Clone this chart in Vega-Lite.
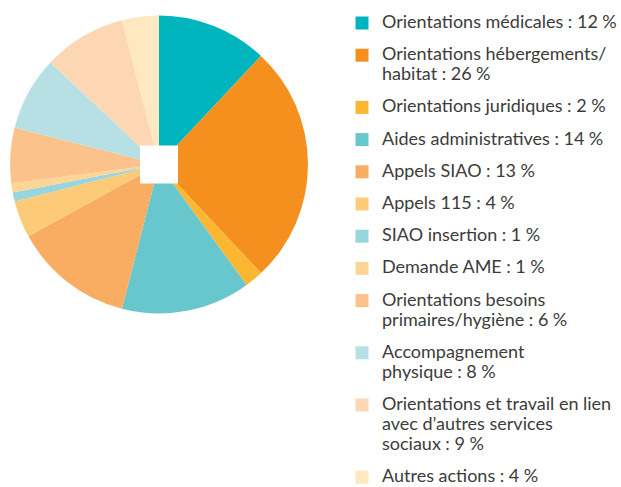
{
  "$schema": "https://vega.github.io/schema/vega-lite/v6.json",
  "padding": 0,
  "background": "white",
  "width": 318,
  "height": 329,
  "view": {"stroke": null},
  "config": {"font": "Lato"},
  "data": {
    "values": [
      {"order": 1, "category": "Orientations médicales", "pct": 12},
      {"order": 2, "category": "Orientations hébergements/\nhabitat", "pct": 26},
      {"order": 3, "category": "Orientations juridiques", "pct": 2},
      {"order": 4, "category": "Aides administratives", "pct": 14},
      {"order": 5, "category": "Appels SIAO", "pct": 13},
      {"order": 6, "category": "Appels 115", "pct": 4},
      {"order": 7, "category": "SIAO insertion", "pct": 1},
      {"order": 8, "category": "Demande AME", "pct": 1},
      {"order": 9, "category": "Orientations besoins\nprimaires/hygiène", "pct": 6},
      {"order": 10, "category": "Accompagnement\nphysique", "pct": 8},
      {"order": 11, "category": "Orientations et travail en lien\navec d’autres services\nsociaux", "pct": 9},
      {"order": 12, "category": "Autres actions", "pct": 4}
    ]
  },
  "layer": [
    {
      "transform": [
        {"calculate": "datum.category + '\u202f: ' + datum.pct + '\u202f%'", "as": "label"}
      ],
      "mark": {"type": "arc", "outerRadius": 149, "stroke": null},
      "encoding": {
        "theta": {"field": "pct", "type": "quantitative", "stack": true},
        "order": {"field": "order", "type": "quantitative"},
        "color": {
          "field": "label",
          "type": "nominal",
          "sort": null,
          "scale": {
            "range": ["#00b5bd", "#f5901f", "#fbb731", "#67c7cc", "#f8ad63", "#fdca78", "#98d5dc", "#fdd596", "#fbc28c", "#b6e0e3", "#fdd7b4", "#fee8c0"]
          },
          "legend": {
            "orient": "none",
            "legendX": 353,
            "legendY": 14,
            "title": null,
            "padding": 0,
            "symbolType": "square",
            "symbolSize": 169,
            "symbolStrokeWidth": 0,
            "symbolOpacity": 1,
            "labelFont": "Lato",
            "labelFontSize": 18,
            "labelColor": "#3c3c3b",
            "labelOffset": 11,
            "labelLimit": 0,
            "rowPadding": 14.2,
            "labelBaseline": "middle",
            "labelExpr": "split(datum.label, '\\n')"
          }
        }
      }
    },
    {
      "data": {"values": [{}]},
      "mark": {"type": "square", "size": 1444, "color": "white", "opacity": 1},
      "encoding": {}
    }
  ]
}
